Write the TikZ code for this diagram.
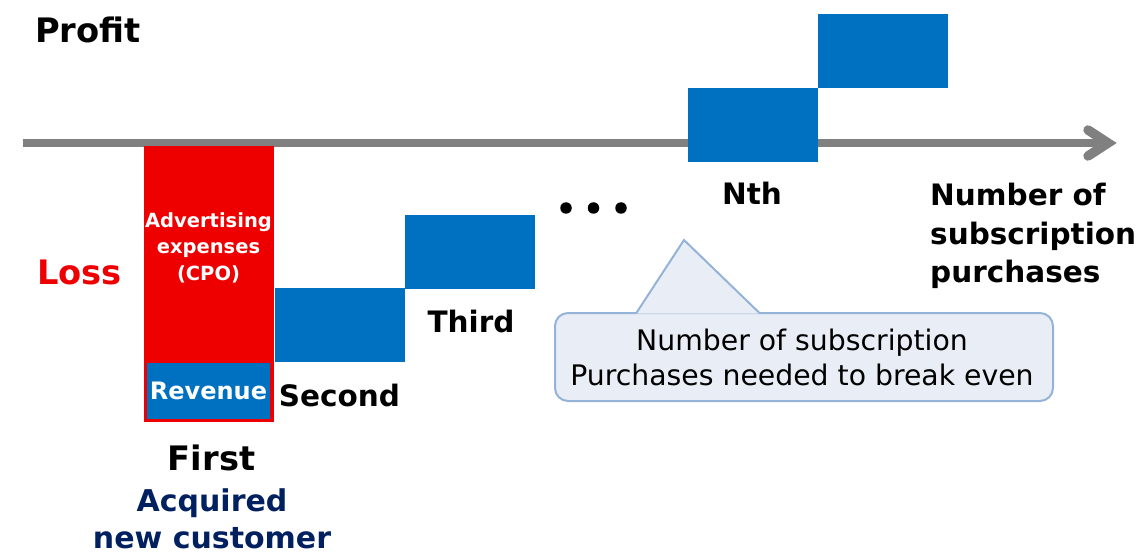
\documentclass[tikz,border=0pt]{standalone}
\usepackage{fontspec}
\setmainfont{DejaVu Sans}
\definecolor{pblue}{HTML}{0070C0}
\definecolor{pred}{HTML}{EE0000}
\definecolor{axisgray}{HTML}{808080}
\definecolor{navy}{HTML}{002060}
\definecolor{calfill}{HTML}{E9EEF6}
\definecolor{calline}{HTML}{95B3D7}
\tikzset{
  blk/.style={fill=pblue, inner sep=0, outer sep=0, minimum width=130, minimum height=74, anchor=north west},
  lbl/.style={font=\fontsize{29.5}{35}\selectfont\bfseries, inner sep=0, anchor=base},
  biglbl/.style={font=\fontsize{33.7}{40}\selectfont\bfseries, inner sep=0, anchor=base},
  navylbl/.style={font=\fontsize{30}{38}\selectfont\bfseries, text=navy, inner sep=0, anchor=base},
  adlbl/.style={font=\fontsize{19.5}{26}\selectfont\bfseries, text=white, inner sep=0, anchor=base},
  caltxt/.style={font=\fontsize{28.3}{35}\selectfont, inner sep=0, anchor=base},
  axisline/.style={draw=axisgray, line width=8},
  dotmark/.style={circle, fill=black, inner sep=0, minimum size=11.5},
}
\begin{document}
\begin{tikzpicture}[x=1pt, y=-1pt]
\useasboundingbox (0,0) rectangle (1142,553);
% axis
\coordinate (a0) at (23,143);
\coordinate (a1) at (1108,143);
\coordinate (h1) at (1088,130);
\coordinate (h2) at (1088,156);
\draw[axisline] (a0) -- (a1);
\draw[axisline, line width=9.5, line cap=round, line join=miter] (h1) -- (a1) -- (h2);
% red bar and revenue
\node[fill=pred, inner sep=0, outer sep=0, minimum width=130, minimum height=276, anchor=north west] (cpo) at (144,146) {};
\node[fill=pblue, inner sep=0, outer sep=0, minimum width=123, minimum height=56, anchor=north west,
      font=\fontsize{24}{28}\selectfont\bfseries, text=white] (rev) at (147,363) {Revenue};
\node[adlbl] (ad1) at (208.5,228) {Advertising};
\node[adlbl] (ad2) at (208.5,254) {expenses};
\node[adlbl] (ad3) at (208.5,280) {(CPO)};
% blocks
\node[blk] (b2) at (275,288) {};
\node[blk] (b3) at (405,215) {};
\node[blk] (bn) at (688,88) {};
\node[blk] (bn1) at (818,14) {};
% labels
\node[biglbl, anchor=base west] (profit) at (35,43) {Profit};
\node[biglbl, anchor=base west, text=pred] (loss) at (37,284) {Loss};
\node[lbl] (second) at (339.5,406) {Second};
\node[lbl] (third) at (471,332) {Third};
\node[lbl] (nth) at (752,205) {Nth};
\node[biglbl] (first) at (211.5,470) {First};
\node[navylbl] (acq1) at (212,511) {Acquired};
\node[navylbl] (acq2) at (212,548) {new customer};
\node[lbl, anchor=base west] (ax1) at (930,206) {Number of};
\node[lbl, anchor=base west] (ax2) at (930,244) {subscription};
\node[lbl, anchor=base west] (ax3) at (930,282) {purchases};
% dots
\node[dotmark] (d1) at (566,208) {};
\node[dotmark] (d2) at (593.5,208) {};
\node[dotmark] (d3) at (621,208) {};
% callout
\node[draw=calline, fill=calfill, line width=2, rounded corners=13, minimum width=498, minimum height=88, inner sep=0, anchor=north west] (cbox) at (554,312) {};
\coordinate (p1) at (636,313.5);
\coordinate (apex) at (684,240);
\coordinate (p2) at (760,313.5);
\fill[calfill] (p1) -- (apex) -- (p2) -- cycle;
\draw[calline, line width=2, line join=miter] (p1) -- (apex) -- (p2);
\node[caltxt] (ct1) at (802,350) {Number of subscription};
\node[caltxt] (ct2) at (802,385) {Purchases needed to break even};
\end{tikzpicture}
\end{document}
